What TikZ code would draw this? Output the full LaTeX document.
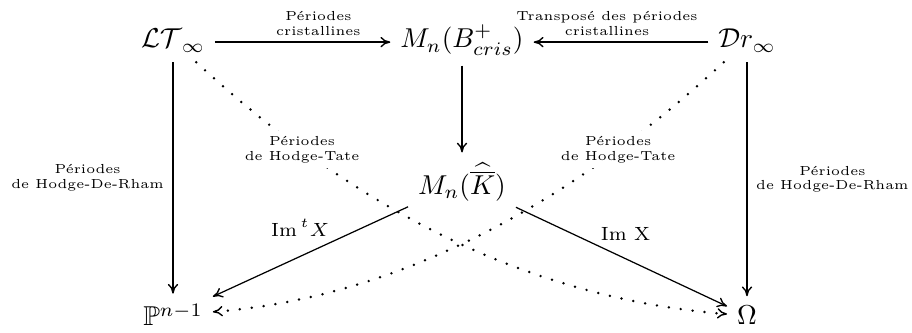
\documentclass[tikz,border=0pt]{standalone}
\usepackage{amsmath,amssymb}
\usetikzlibrary{arrows.meta}
\begin{document}
\begin{tikzpicture}[x=0.3663pt,y=0.3663pt,
  obj/.style={inner sep=3.5pt},
  tip/.style={-{Computer Modern Rightarrow[length=3.6pt,width=3.8pt,line width=0.5pt]}},
  arr/.style={tip, line width=0.75pt},
  thinarr/.style={tip, line width=0.45pt},
  dotarr/.style={tip, line width=1pt, line cap=round, dash pattern=on 0pt off 4.4pt},
  lab/.style={font=\fontsize{4.8}{5.4}\selectfont, align=center, inner sep=2pt},
  imlab/.style={font=\scriptsize, inner sep=1.5pt}]
\useasboundingbox (0,0) rectangle (912,333);
\node[obj, anchor=base] (LT) at (173,285) {$\mathcal{LT}_\infty$};
\node[obj, anchor=base] (MB) at (462,285) {$M_n(B^+_{cris})$};
\node[obj, anchor=base] (Dr) at (747,285) {$\mathcal{D}r_\infty$};
\node[obj] (MK) at (462,151) {$M_n(\widehat{\overline{K}})$};
\node[obj, anchor=base] (P) at (173,7) {$\mathbb{P}^{n-1}$};
\node[obj, anchor=base] (Om) at (747,8) {$\Omega$};
\draw[arr] (LT.mid east) -- (MB.mid west)
  node[lab, pos=0.59, above] {Périodes\\cristallines};
\draw[arr] (Dr.mid west) -- (MB.mid east)
  node[lab, pos=0.58, above] {Transposé des périodes\\cristallines};
\draw[arr] (MB) -- (MK);
\draw[arr] (LT) -- (P)
  node[lab, midway, left, inner sep=3pt] {Périodes\\de Hodge-De-Rham};
\draw[arr] (Dr) -- (Om)
  node[lab, midway, right, inner sep=3pt] {Périodes\\de Hodge-De-Rham};
\draw[thinarr] (MK) -- (P)
  node[imlab, pos=0.38, anchor=south east] {Im$\,^tX$};
\draw[thinarr] (MK) -- (Om)
  node[imlab, pos=0.38, anchor=south west] {Im X};
\draw[dotarr] (LT) .. controls (353,126) and (525,35) .. (Om)
  node[lab, pos=0.22, fill=white] {Périodes\\de Hodge-Tate};
\draw[dotarr] (Dr) .. controls (567,126) and (395,35) .. (P)
  node[lab, pos=0.22, fill=white] {Périodes\\de Hodge-Tate};
\end{tikzpicture}
\end{document}
